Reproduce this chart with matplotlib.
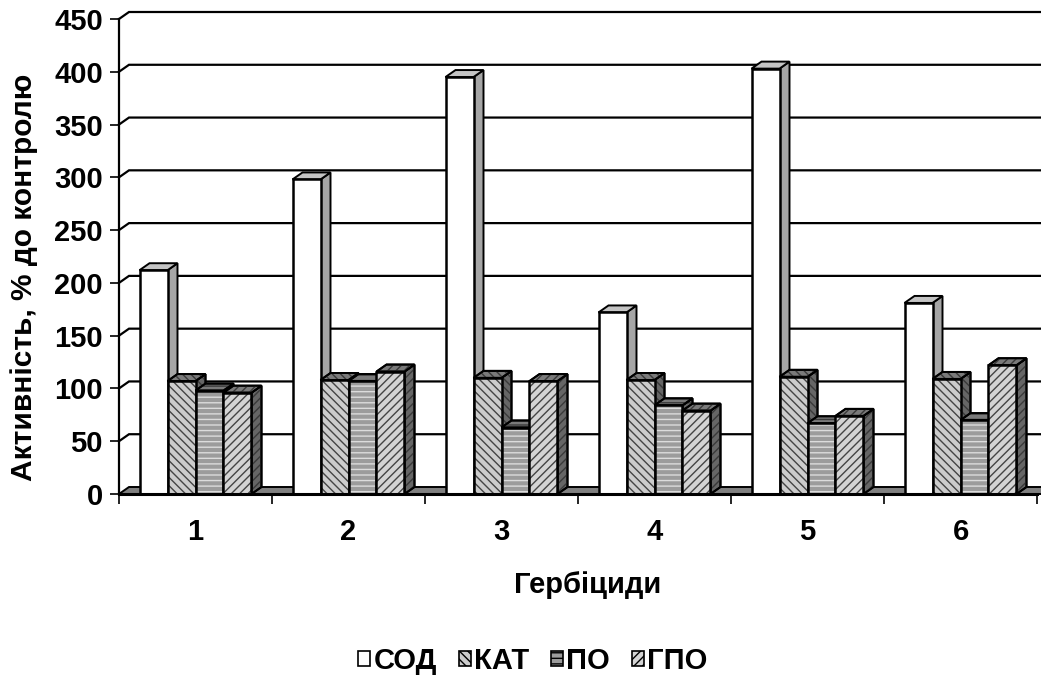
import matplotlib
matplotlib.use("Agg")
import matplotlib.pyplot as plt
from matplotlib.patches import Polygon, Patch
import numpy as np

plt.rcParams['font.family'] = ['Liberation Sans', 'DejaVu Sans']
plt.rcParams['font.weight'] = 'bold'
plt.rcParams['hatch.linewidth'] = 1.0

categories = ['1', '2', '3', '4', '5', '6']
series_names = ['СОД', 'КАТ', 'ПО', 'ГПО']
sod = [212, 298, 395, 172, 403, 181]
kat = [107, 108, 110, 108, 111, 109]
po = [98, 107, 63, 84, 67, 70]
gpo = [96, 116, 107, 79, 74, 122]
yticks = [0, 50, 100, 150, 200, 250, 300, 350, 400, 450]

series = [sod, kat, po, gpo]
styles = [
    dict(face='white', hatch=None, hcol=None, top='#c4c4c4', side='#a6a6a6'),
    dict(face='#cccccc', hatch='\\\\\\\\', hcol='#444444', top='#7a7a7a', side='#666666'),
    dict(face='#9c9c9c', hatch='---', hcol='#dcdcdc', top='#7a7a7a', side='#666666'),
    dict(face='#d4d4d4', hatch='////', hcol='#444444', top='#7a7a7a', side='#666666'),
]

W, H = 1041, 682
fig = plt.figure(figsize=(W / 100, H / 100), dpi=100)
L, R, B, T = 119, 1037, 494, 19
ax = fig.add_axes([L / W, 1 - B / H, (R - L) / W, (B - T) / H])
xmin, xmax = -0.5, len(categories) - 0.5
ymin, ymax = 0, 450
ax.set_xlim(xmin, xmax)
ax.set_ylim(ymin, ymax)

dxp, dyp = 10, 7
dx = dxp * (xmax - xmin) / (R - L)
dy = dyp * (ymax - ymin) / (B - T)

for v in yticks[1:]:
    ax.plot([xmin, xmin + dx, xmax + dx * 2], [v, v + dy, v + dy], color='black',
            lw=1.6, clip_on=False, zorder=1, solid_joinstyle='miter')

floor = Polygon([(xmin, 0), (xmax + dx * 2, 0), (xmax + dx * 2, dy), (xmin + dx, dy)],
                closed=True, facecolor='#808080', edgecolor='black', lw=1.4,
                clip_on=False, zorder=2)
ax.add_patch(floor)


def face(pts, st, z):
    ax.add_patch(Polygon(pts, closed=True, facecolor=st, edgecolor='black', lw=1.4,
                         zorder=z, clip_on=False))


def hatched(pts, hatch, z):
    ax.add_patch(Polygon(pts, closed=True, facecolor='none', edgecolor='#3a3a3a', hatch=hatch,
                         lw=0, zorder=z + 0.1, clip_on=False))
    ax.add_patch(Polygon(pts, closed=True, facecolor='none', edgecolor='black', lw=1.4,
                         zorder=z + 0.2, clip_on=False))


bw = 0.183
x = np.arange(len(categories))
offsets = [-1.5 * bw, -0.5 * bw, 0.5 * bw, 1.5 * bw]
z = 3
for gi in range(len(categories)):
    for si, s in enumerate(series):
        st = styles[si]
        h = s[gi]
        x0 = x[gi] + offsets[si] - bw / 2
        x1 = x0 + bw
        side = [(x1, 0), (x1 + dx, dy), (x1 + dx, h + dy), (x1, h)]
        face(side, st['side'], z)
        if st['hatch']:
            hatched(side, st['hatch'], z)
        z += 1
        top = [(x0, h), (x1, h), (x1 + dx, h + dy), (x0 + dx, h + dy)]
        face(top, st['top'], z)
        if st['hatch']:
            hatched(top, st['hatch'], z)
        z += 1
        if st['hatch']:
            ax.bar(x0, h, width=bw, align='edge', color=st['face'], edgecolor=st['hcol'],
                   hatch=st['hatch'], lw=0, zorder=z)
            ax.bar(x0, h, width=bw, align='edge', color='none', edgecolor='black',
                   lw=1.8, zorder=z + 0.1)
        else:
            ax.bar(x0, h, width=bw, align='edge', color=st['face'], edgecolor='black',
                   lw=1.8, zorder=z)
        z += 1

for sp in ['top', 'right']:
    ax.spines[sp].set_visible(False)
ax.spines['left'].set_linewidth(1.6)
ax.spines['bottom'].set_linewidth(2.2)
ax.spines['left'].set_zorder(200)
ax.spines['bottom'].set_zorder(200)

ax.set_yticks(yticks)
ax.set_yticklabels([str(v) for v in yticks], fontsize=21, fontweight='bold')
ax.tick_params(axis='y', length=6.5, width=1.2, pad=5)

ax.set_xticks(np.arange(len(categories) + 1) - 0.5)
ax.set_xticklabels([])
ax.set_xticks(x, minor=True)
ax.set_xticklabels(categories, minor=True, fontsize=21, fontweight='bold')
ax.tick_params(axis='x', which='major', length=7.5, width=1.2, direction='out')
ax.tick_params(axis='x', which='minor', length=0, pad=17)

ax.set_xlabel('Гербіциди', fontsize=21, fontweight='bold')
ax.xaxis.set_label_coords(0.51, -0.162)
ax.set_ylabel('Активність, % до контролю', fontsize=21.5, fontweight='bold')
ax.yaxis.set_label_coords(-0.088, 0.457)

handles = []
for si, name in enumerate(series_names):
    st = styles[si]
    handles.append(Patch(facecolor=st['face'], edgecolor='black', hatch=st['hatch'], lw=1.2, label=name))
fig.legend(handles=handles, loc='center', bbox_to_anchor=(0.512, 1 - 661 / H), ncol=4,
           frameon=False, prop={'size': 21, 'weight': 'bold'}, handlelength=0.4,
           handleheight=0.4, handletextpad=0.12, columnspacing=0.75, borderpad=0)

fig.savefig('out.png', dpi=100)
